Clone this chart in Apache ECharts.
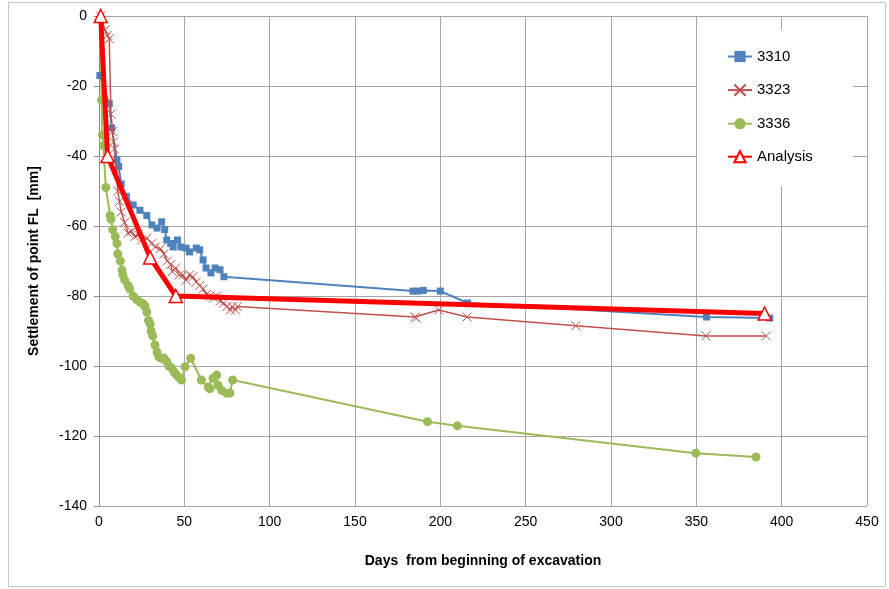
<!DOCTYPE html>
<html>
<head>
    <meta charset="utf-8">
    <title>Settlement of point FL</title>
    <script src="https://cdn.jsdelivr.net/npm/echarts@6/dist/echarts.min.js"></script>
    <style>
        html, body { margin: 0; padding: 0; background: #fff; }
    </style>
</head>
<body>
<div id="main" style="width: 889px;height:589px;"></div>
<script type="text/javascript">
// data: days / settlement [mm]
var days3310 = [0.5, 6, 7.5, 10.5, 11.5, 13, 16, 20, 24, 28, 31, 34, 36.7, 38.5, 39.7, 42, 43.5, 46, 48, 51, 53, 57, 59, 61, 62.7, 65.6, 68, 70.9, 73.2, 184, 187, 190, 200, 216, 356, 393];
var mm3310   = [-17, -25, -32, -41, -43, -48, -51.5, -54, -55.5, -57, -59.7, -60.6, -58.8, -61, -64, -65, -66, -64, -66, -66.3, -67.4, -66.3, -66.8, -69.7, -72, -73.4, -72, -72.5, -74.5, -78.6, -78.6, -78.4, -78.6, -82, -86, -86.3];

var days3323 = [1, 3.5, 5, 6, 7, 8, 8.5, 9, 10, 11, 12, 13, 15, 17, 19, 21, 23, 25, 28, 31, 33, 36, 38, 40, 42, 43, 45, 47, 49, 51, 53, 55, 57, 59, 61, 63, 65, 67, 69, 71, 73, 75, 77, 78, 80, 81, 185, 186, 199, 215.6, 279.4, 355.6, 391];
var mm3323   = [0, -4, -5.5, -6.5, -28, -33, -36, -38, -44, -50, -53, -56, -59, -62, -61.5, -63, -62.5, -64, -63.5, -65, -66, -66.5, -68, -70, -71, -73, -72, -74, -74, -75.5, -74, -74.5, -76, -77, -78, -79.5, -80, -80.5, -80, -81.5, -82, -83, -84, -83, -84, -83, -86, -86.3, -84, -86, -88.5, -91.4, -91.4];

var days3336 = [1, 1.5, 2, 2.5, 4, 6.5, 7, 8, 9.5, 10.5, 11, 12.5, 13.5, 14, 15, 17, 18, 20, 22, 24, 26, 27, 28, 29, 30, 30.5, 31.5, 32.8, 34, 35, 36.7, 38, 39.7, 41, 42.6, 44, 45.5, 47, 48.4, 50.4, 53.7, 60, 64, 65, 66.8, 69, 69.7, 72, 74.8, 76.7, 78.3, 192.5, 210, 349.7, 385];
var mm3336   = [-1, -24, -34, -37, -49, -57, -58, -61, -63, -65, -68, -70, -72.6, -74, -75.4, -77, -78, -80, -81, -81.7, -82.3, -83, -84.6, -87, -88, -90, -91.4, -94, -96, -97.4, -97.8, -97.7, -98.8, -100, -100.6, -101.7, -102.6, -103.4, -104, -100.2, -97.8, -104, -106, -106.5, -103.5, -102.6, -105.5, -107, -107.8, -107.7, -104, -115.9, -117.1, -124.9, -126];

var daysAnalysis = [1, 5, 30, 45, 390];
var mmAnalysis   = [0, -40, -69, -80, -85];

function pairs(d, v) {
    var out = [];
    for (var i = 0; i < d.length; i++) {
        out.push([d[i], v[i]]);
    }
    return out;
}

var myChart = echarts.init(document.getElementById('main'));
var fontName = 'Liberation Sans';

var option = {
    backgroundColor: '#fff',
    animation: false,
    textStyle: { fontFamily: fontName },
    graphic: [{
        type: 'rect',
        shape: { x: 8.5, y: 2.5, width: 877, height: 584 },
        style: { fill: 'none', stroke: '#c4c4c4', lineWidth: 1 },
        silent: true
    }],
    grid: { left: 99, top: 16, width: 768, height: 490 },
    legend: {
        orient: 'vertical',
        left: 697,
        top: 30,
        padding: [19, 40, 22, 30],
        backgroundColor: '#fff',
        itemGap: 18,
        itemWidth: 24,
        itemHeight: 14,
        textStyle: { fontSize: 15, color: '#000', fontFamily: fontName },
        data: ['3310', '3323', '3336', 'Analysis']
    },
    xAxis: {
        type: 'value',
        min: 0, max: 450, interval: 50,
        name: 'Days  from beginning of excavation',
        nameLocation: 'middle',
        nameGap: 48,
        nameTextStyle: { fontSize: 14, fontWeight: 'bold', color: '#000', fontFamily: fontName },
        axisLine: { show: false },
        axisTick: { show: false },
        axisLabel: { fontSize: 14, color: '#000', margin: 9, fontFamily: fontName },
        splitLine: { show: true, lineStyle: { color: '#a6a6a6', width: 1 } }
    },
    yAxis: {
        type: 'value',
        min: -140, max: 0, interval: 20,
        name: 'Settlement of point FL  [mm]',
        nameLocation: 'middle',
        nameGap: 58,
        nameTextStyle: { fontSize: 14, fontWeight: 'bold', color: '#000', fontFamily: fontName },
        axisLine: { show: true, onZero: false, lineStyle: { color: '#8c8c8c' } },
        axisTick: { show: true, length: 5, lineStyle: { color: '#8c8c8c' } },
        axisLabel: { fontSize: 14, color: '#000', margin: 12, fontFamily: fontName },
        splitLine: { show: true, lineStyle: { color: '#a6a6a6', width: 1 } }
    },
    series: [{
        name: '3310',
        type: 'line',
        data: pairs(days3310, mm3310),
        symbol: 'rect',
        symbolSize: 7,
        color: '#4F81BD',
        lineStyle: { width: 2, color: '#4F81BD' },
        itemStyle: { color: '#4F81BD' },
        z: 2
    }, {
        name: '3323',
        type: 'line',
        data: pairs(days3323, mm3323),
        symbol: 'path://M0,0L10,10M10,0L0,10',
        symbolSize: 9,
        color: '#C0504D',
        lineStyle: { width: 1.5, color: '#C0504D' },
        itemStyle: { color: 'none', borderColor: '#C0504D', borderWidth: 1 },
        z: 3
    }, {
        name: '3336',
        type: 'line',
        data: pairs(days3336, mm3336),
        symbol: 'circle',
        symbolSize: 9,
        color: '#9BBB59',
        lineStyle: { width: 2, color: '#9BBB59' },
        itemStyle: { color: '#9BBB59' },
        z: 2
    }, {
        name: 'Analysis',
        type: 'line',
        data: pairs(daysAnalysis, mmAnalysis),
        symbol: 'triangle',
        symbolSize: 13,
        color: '#FF0000',
        lineStyle: { width: 5, color: '#FF0000' },
        itemStyle: { color: '#fff', borderColor: '#FF0000', borderWidth: 1.5 },
        z: 4
    }]
};

myChart.setOption(option);
</script>
</body>
</html>
